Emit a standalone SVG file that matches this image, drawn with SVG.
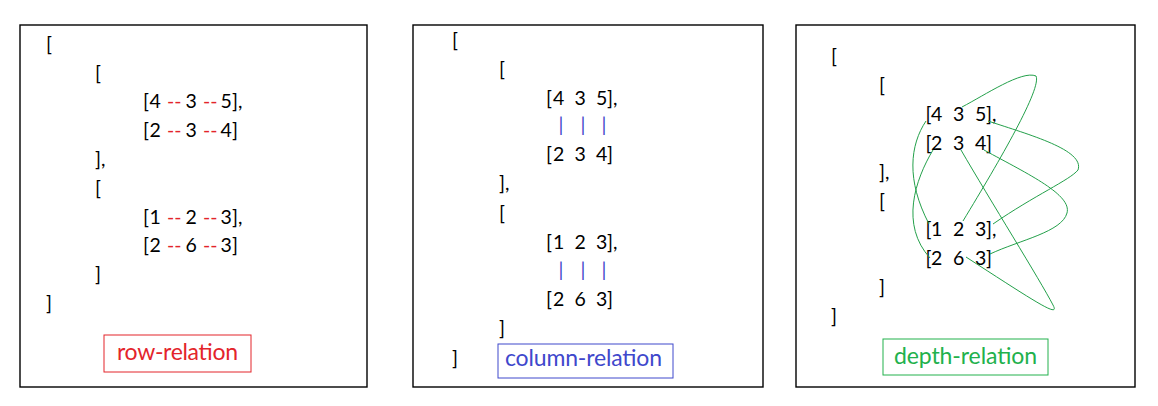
<svg xmlns="http://www.w3.org/2000/svg" width="1158" height="406" viewBox="0 0 1158 406">
<style>
.t{font-family:Lato,"Open Sans","Liberation Sans",sans-serif;font-size:19.5px;fill:#000}
.r{fill:#e3242b}
.b{fill:#3f48cc}
.panel{fill:#fff;stroke:#000;stroke-width:1.4}
.lab{font-family:Lato,"Open Sans","Liberation Sans",sans-serif;font-size:23px}
.curve{fill:none;stroke:#23a04a;stroke-width:1}
</style>
<rect width="1158" height="406" fill="#fff"/>
<g id="panel-row">
<rect class="panel" x="20" y="25" width="347" height="362"/>
<text class="t" x="46" y="51">[</text>
<text class="t" x="95" y="80">[</text>
<text class="t" y="108"><tspan x="143">[</tspan><tspan x="149.5">4</tspan><tspan class="r" x="167">--</tspan><tspan x="185.5">3</tspan><tspan class="r" x="203">--</tspan><tspan x="220.5">5</tspan><tspan x="232">],</tspan></text>
<text class="t" y="137"><tspan x="143">[</tspan><tspan x="149.5">2</tspan><tspan class="r" x="167">--</tspan><tspan x="185.5">3</tspan><tspan class="r" x="203">--</tspan><tspan x="220.5">4</tspan><tspan x="232">]</tspan></text>
<text class="t" x="95" y="166">],</text>
<text class="t" x="95" y="195">[</text>
<text class="t" y="224"><tspan x="143">[</tspan><tspan x="149.5">1</tspan><tspan class="r" x="167">--</tspan><tspan x="185.5">2</tspan><tspan class="r" x="203">--</tspan><tspan x="220.5">3</tspan><tspan x="232">],</tspan></text>
<text class="t" y="252"><tspan x="143">[</tspan><tspan x="149.5">2</tspan><tspan class="r" x="167">--</tspan><tspan x="185.5">6</tspan><tspan class="r" x="203">--</tspan><tspan x="220.5">3</tspan><tspan x="232">]</tspan></text>
<text class="t" x="95" y="281">]</text>
<text class="t" x="46" y="310">]</text>
</g>
<g id="label-row">
<rect x="104" y="335" width="147" height="37" fill="none" stroke="#e3242b" stroke-width="1"/>
<text class="lab r" x="117" y="360" textLength="121" lengthAdjust="spacing">row-relation</text>
</g>
<g id="panel-column">
<rect class="panel" x="413" y="25" width="350" height="362"/>
<text class="t" x="452" y="47">[</text>
<text class="t" x="499" y="76">[</text>
<text class="t" y="105"><tspan x="546">[</tspan><tspan x="553">4</tspan><tspan x="574.5">3</tspan><tspan x="596">5</tspan><tspan x="607">],</tspan></text>
<text class="t b" y="132" text-anchor="middle"><tspan x="561">|</tspan><tspan x="583">|</tspan><tspan x="604">|</tspan></text>
<text class="t" y="161"><tspan x="546">[</tspan><tspan x="553">2</tspan><tspan x="574.5">3</tspan><tspan x="596">4</tspan><tspan x="607">]</tspan></text>
<text class="t" x="499" y="190">],</text>
<text class="t" x="499" y="220">[</text>
<text class="t" y="249"><tspan x="546">[</tspan><tspan x="553">1</tspan><tspan x="574.5">2</tspan><tspan x="596">3</tspan><tspan x="607">],</tspan></text>
<text class="t b" y="277" text-anchor="middle"><tspan x="561">|</tspan><tspan x="583">|</tspan><tspan x="604">|</tspan></text>
<text class="t" y="306"><tspan x="546">[</tspan><tspan x="553">2</tspan><tspan x="574.5">6</tspan><tspan x="596">3</tspan><tspan x="607">]</tspan></text>
<text class="t" x="499" y="335">]</text>
<text class="t" x="452" y="365">]</text>
</g>
<g id="label-column">
<rect x="498" y="344" width="175" height="34" fill="none" stroke="#3f48cc" stroke-width="1"/>
<text class="lab b" x="505" y="366" textLength="157" lengthAdjust="spacing">column-relation</text>
</g>
<g id="panel-depth">
<rect class="panel" x="796" y="25" width="339" height="362"/>
<text class="t" x="831" y="63">[</text>
<text class="t" x="879" y="92">[</text>
<text class="t" y="121"><tspan x="925.5">[</tspan><tspan x="931">4</tspan><tspan x="953">3</tspan><tspan x="975">5</tspan><tspan x="986">],</tspan></text>
<text class="t" y="150"><tspan x="925.5">[</tspan><tspan x="931">2</tspan><tspan x="953">3</tspan><tspan x="975">4</tspan><tspan x="986">]</tspan></text>
<text class="t" x="879" y="179">],</text>
<text class="t" x="879" y="208">[</text>
<text class="t" y="236"><tspan x="925.5">[</tspan><tspan x="931">1</tspan><tspan x="953">2</tspan><tspan x="975">3</tspan><tspan x="986">],</tspan></text>
<text class="t" y="265"><tspan x="925.5">[</tspan><tspan x="931">2</tspan><tspan x="953">6</tspan><tspan x="975">3</tspan><tspan x="986">]</tspan></text>
<text class="t" x="879" y="294">]</text>
<text class="t" x="831" y="323">]</text>
</g>
<g id="label-depth">
<rect x="883" y="339" width="165" height="36" fill="none" stroke="#22b14c" stroke-width="1"/>
<text class="lab" fill="#22b14c" x="894" y="364" textLength="143" lengthAdjust="spacing">depth-relation</text>
</g>
<g id="connectors">
<path class="curve" d="M926,121 C910,145 906,180 929,224"/>
<path class="curve" d="M933,150 C915,180 900,225 930,258"/>
<path class="curve" d="M962,107 C985,95 1022,70 1036,76 C1042,88 1000,160 963,221"/>
<path class="curve" d="M961,150 C990,200 1040,280 1053,305 C1060,318 1040,305 966,257"/>
<path class="curve" d="M988,121 C1030,135 1085,150 1078,170 C1070,180 1035,195 993,224"/>
<path class="curve" d="M984,150 C1030,175 1072,195 1067,213 C1062,232 1020,240 990,254"/>
</g>
</svg>
